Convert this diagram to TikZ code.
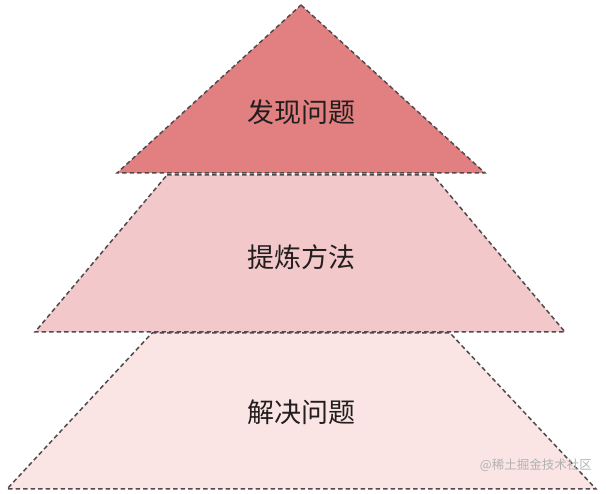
\documentclass[tikz,border=0pt]{standalone}
\usepackage{fontspec}
\newfontfamily\cjk{Noto Sans CJK SC}
\definecolor{topc}{RGB}{226,128,129}
\definecolor{midc}{RGB}{242,200,202}
\definecolor{botc}{RGB}{250,228,228}
\definecolor{edgec}{RGB}{80,74,76}
\definecolor{txtc}{RGB}{34,30,30}
\tikzset{
  layer/.style={draw=edgec, line width=1.5pt, dash pattern=on 4.5pt off 3pt, line join=miter},
  lbl/.style={font=\cjk\fontsize{27}{31}\selectfont, text=txtc, inner sep=0pt},
}
\begin{document}
\begin{tikzpicture}[x=1pt,y=-1pt]
\useasboundingbox (0,0) rectangle (606,494);
% bottom
\coordinate (b1) at (152,333);
\coordinate (b2) at (450,333);
\coordinate (b3) at (596,489);
\coordinate (b4) at (7,489);
\path[layer, fill=botc] (b1) -- (b2) -- (b3) -- (b4) -- cycle;
% middle
\coordinate (m1) at (167,175);
\coordinate (m2) at (433,175);
\coordinate (m3) at (565,332);
\coordinate (m4) at (35,332);
\path[layer, fill=midc] (m1) -- (m2) -- (m3) -- (m4) -- cycle;
% top
\coordinate (t1) at (301,5);
\coordinate (t2) at (485,173);
\coordinate (t3) at (117,173);
\path[layer, fill=topc] (t1) -- (t2) -- (t3) -- cycle;
\node[lbl] (l1) at (301,112) {发现问题};
\node[lbl] (l2) at (301,257) {提炼方法};
\node[lbl] (l3) at (301,412) {解决问题};
\node[font=\cjk\fontsize{12.5}{14}\selectfont, text=black!30, inner sep=0pt, anchor=east] (wm) at (592,465) {@稀土掘金技术社区};
\end{tikzpicture}
\end{document}
